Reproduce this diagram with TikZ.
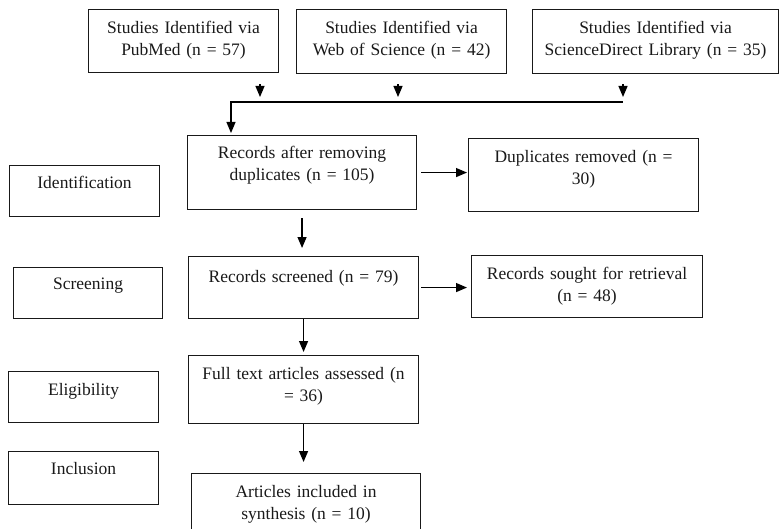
\documentclass[tikz,border=0pt]{standalone}
\usepackage{fontspec}
\setmainfont{Liberation Serif}
\usepackage{tikz}
\usetikzlibrary{arrows.meta, positioning, calc}

\newcommand{\prismafont}{\fontsize{17.5}{22}\selectfont}

\tikzset{
  box/.style={draw=black!90, line width=1.1pt, inner xsep=4pt, inner ysep=0pt,
    align=center, anchor=north west, text=black!90, font=\prismafont},
  arr/.style={-{Triangle[length=11pt,width=9pt]}, line width=1.2pt, black},
}

\begin{document}
\begin{tikzpicture}[x=1pt, y=-1pt]
  \useasboundingbox (0,0) rectangle (783,529);
  \clip (0,0) rectangle (783,529);

  % sources
  \node[box, text width=182, text height=24, text depth=39] (pubmed) at (88,9)
    {Studies Identified via\\PubMed (n = 57)};
  \node[box, text width=202, text height=24, text depth=40] (wos) at (296,9)
    {Studies Identified via\\Web of Science (n = 42)};
  \node[box, text width=238, text height=24, text depth=40] (scidir) at (532,9)
    {Studies Identified via\\ScienceDirect Library (n = 35)};

  % main flow
  \node[box, text width=221, text height=23, text depth=51] (records) at (187,135)
    {Records after removing\\duplicates (n = 105)};
  \node[box, text width=222, text height=24, text depth=49] (dupl) at (468,138)
    {Duplicates removed (n =\\30)};
  \node[box, text width=222, text height=26, text depth=36] (screened) at (188,256)
    {Records screened (n = 79)};
  \node[box, text width=223, text height=24, text depth=38] (sought) at (471,255)
    {Records sought for retrieval\\(n = 48)};
  \node[box, text width=222, text height=24, text depth=44] (fulltext) at (188,355)
    {Full text articles assessed (n\\= 36)};
  \node[box, text width=221, text height=24, text depth=56] (included) at (191,473)
    {Articles included in\\synthesis (n = 10)};

  % stage labels
  \node[box, text width=142, text height=23, text depth=28] (ident) at (9,165) {Identification};
  \node[box, text width=141, text height=22, text depth=29] (screen) at (13,267) {Screening};
  \node[box, text width=142, text height=24, text depth=27] (elig) at (8,371) {Eligibility};
  \node[box, text width=142, text height=23, text depth=30] (incl) at (8,451) {Inclusion};

  % merge line
  \coordinate (tip-pm) at (260,97);
  \coordinate (tip-wos) at (398,97);
  \coordinate (tip-sd) at (623,97);
  \coordinate (bus-w) at (231,102);
  \coordinate (bus-e) at (623,102);

  \draw[arr] ([yshift=-11pt]pubmed.south -| tip-pm) -- (tip-pm);
  \draw[arr] ([yshift=-10pt]wos.south -| tip-wos) -- (tip-wos);
  \draw[arr] ([yshift=-10pt]scidir.south -| tip-sd) -- (tip-sd);
  \draw[line width=1.2pt] ([xshift=-1pt]bus-w) -- (bus-e);
  \draw[arr] (bus-w) -- ([yshift=2pt]records.north -| bus-w);

  \draw[arr] ([xshift=4pt]records.east) -- ([xshift=-1pt]records.east -| dupl.west);
  \draw[arr] ([yshift=-8pt]records.south) -- ([yshift=8pt]screened.north -| records.south);
  \draw[arr] ([xshift=2pt]screened.east) -- ([xshift=-4pt]screened.east -| sought.west);
  \draw[arr] (screened.south) -- ([yshift=3pt]fulltext.north -| screened.south);
  \draw[arr] (fulltext.south) -- ([yshift=11pt]included.north -| fulltext.south);
\end{tikzpicture}
\end{document}
